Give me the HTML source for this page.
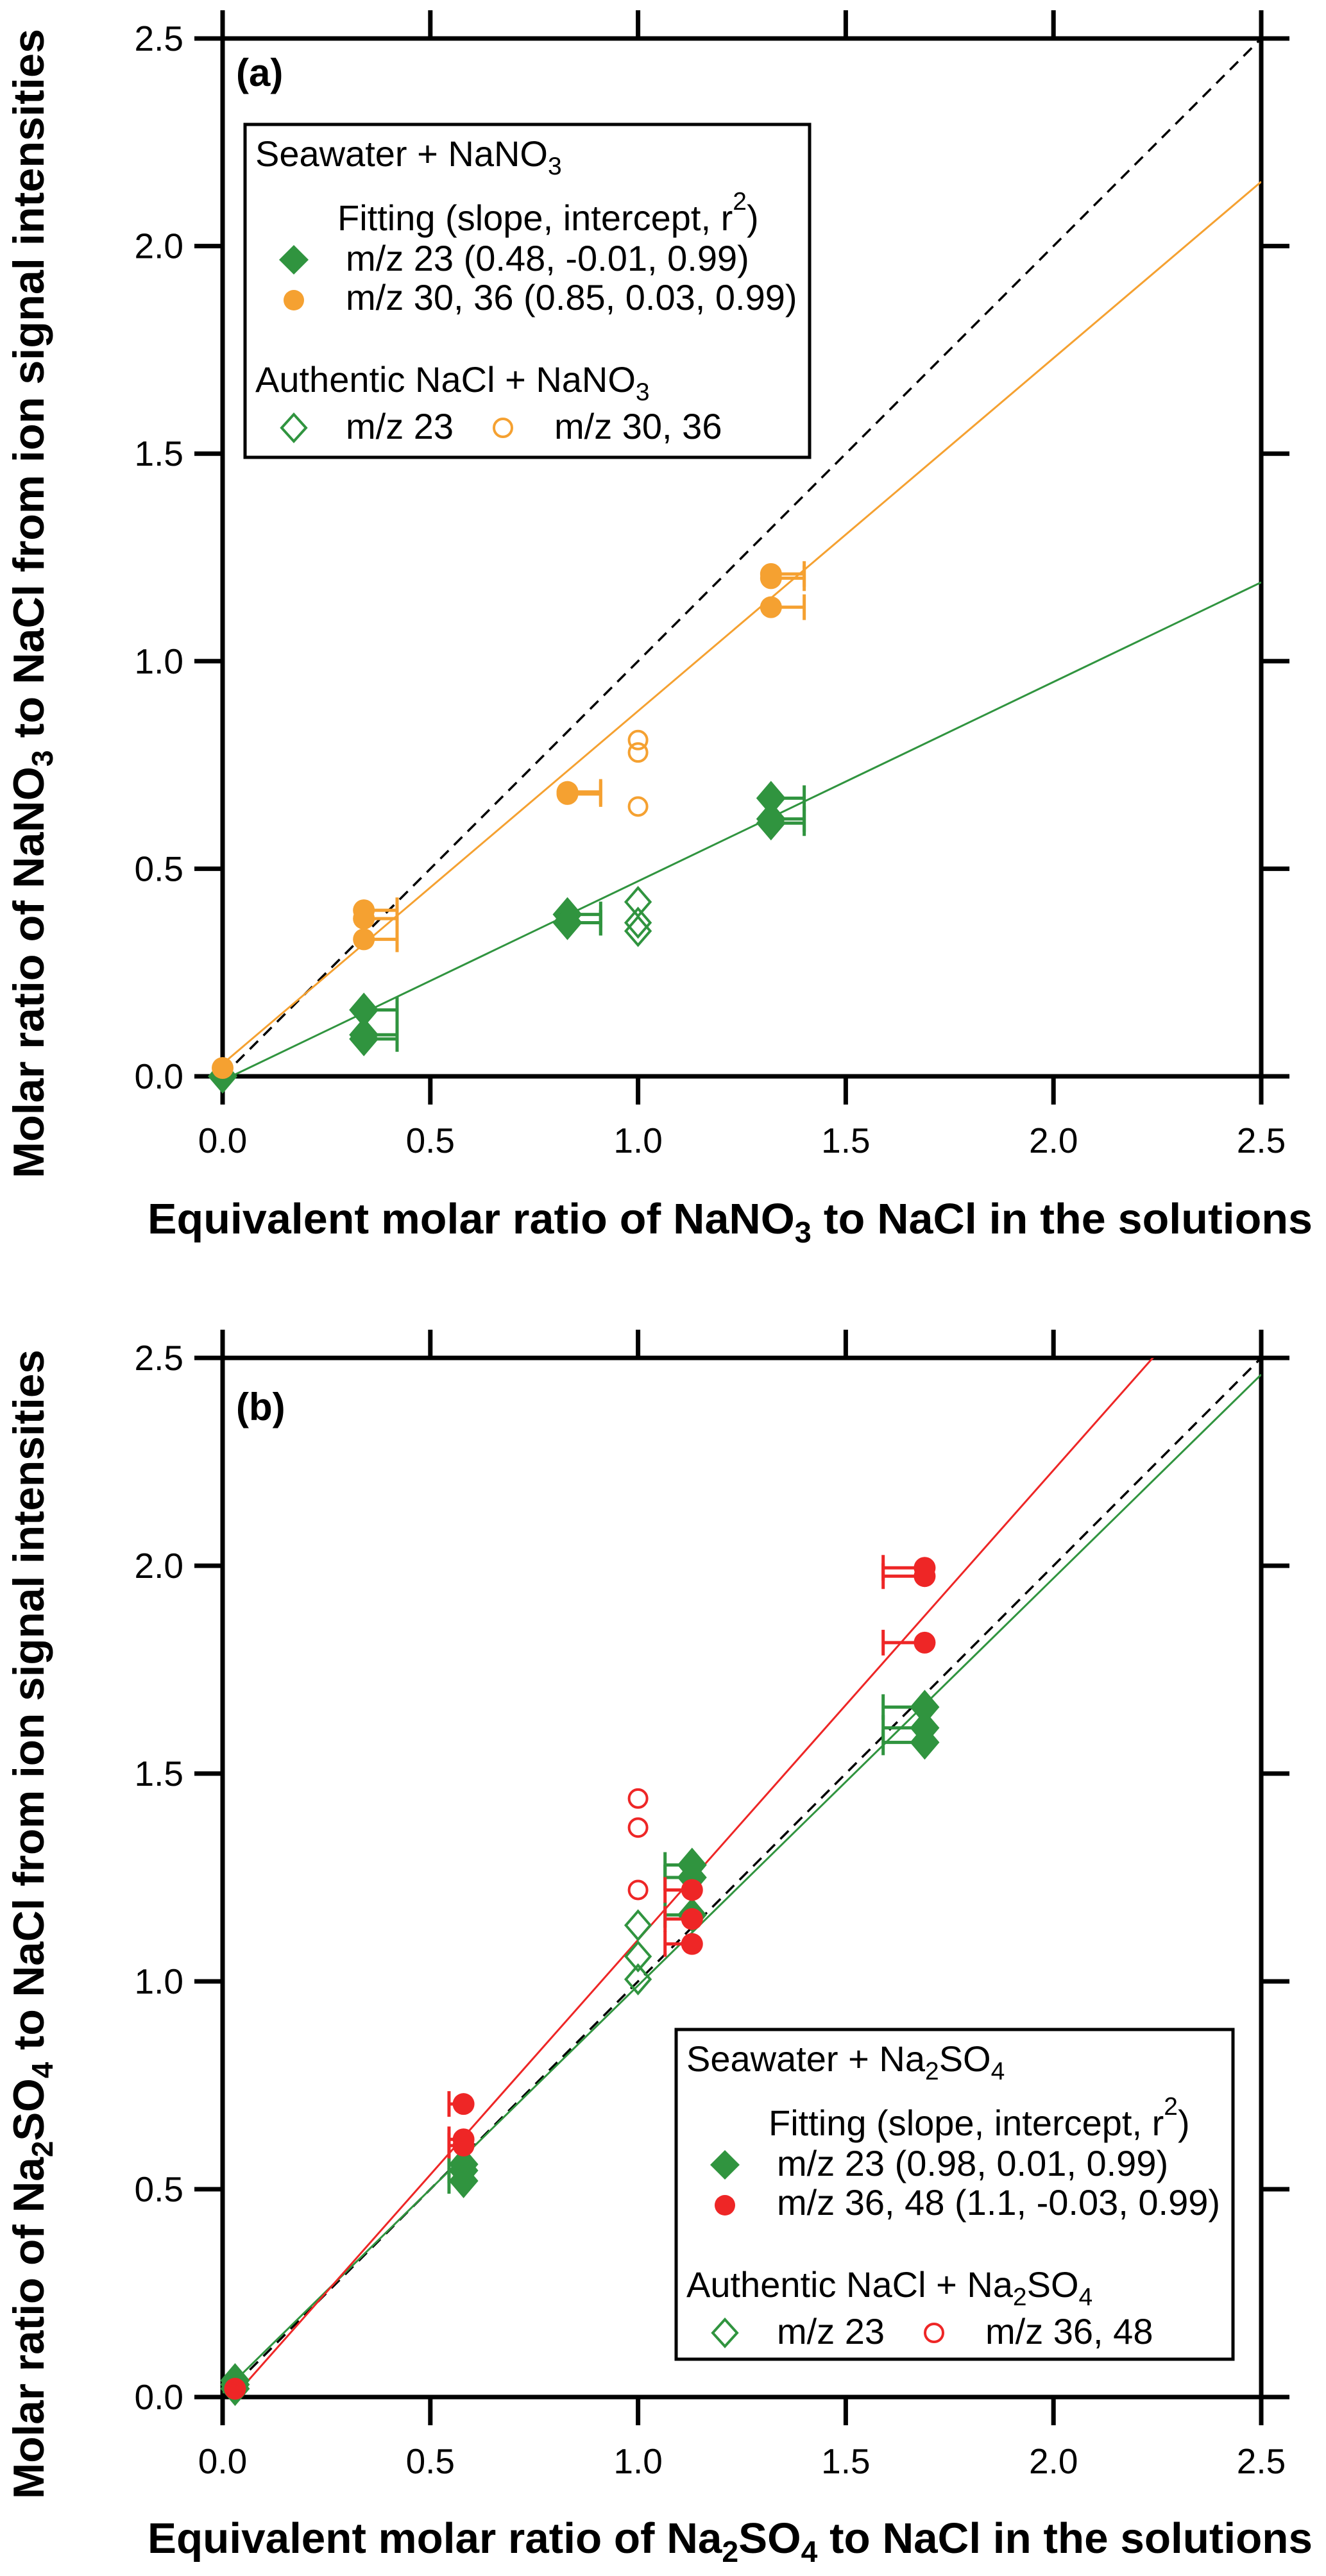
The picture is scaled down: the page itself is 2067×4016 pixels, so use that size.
<!DOCTYPE html>
<html><head><meta charset="utf-8"><style>
html,body{margin:0;padding:0;background:#fff;}
svg{display:block;font-family:"Liberation Sans",Arial,sans-serif;}
</style></head><body>
<svg id="fig" width="2067" height="4016" viewBox="0 0 2067 4016" xmlns="http://www.w3.org/2000/svg"></svg>
<script>
// ---------- Data: panel (a) ----------
const aGreenX = [0, 0.34, 0.34, 0.34, 0.83, 0.83, 0.83, 1.32, 1.32, 1.32];
const aGreenY = [0.0, 0.16, 0.10, 0.09, 0.39, 0.37, 0.37, 0.67, 0.62, 0.61];
const aGreenErr = [0, 0.08, 0.08, 0.08, 0.08, 0.08, 0.08, 0.08, 0.08, 0.08];
const aOrangeX = [0, 0.34, 0.34, 0.34, 0.83, 0.83, 1.32, 1.32, 1.32];
const aOrangeY = [0.02, 0.40, 0.38, 0.33, 0.685, 0.68, 1.21, 1.20, 1.13];
const aOrangeErr = [0, 0.08, 0.08, 0.08, 0.08, 0.08, 0.08, 0.08, 0.08];
const aOpenOrangeX = [1.0, 1.0, 1.0];
const aOpenOrangeY = [0.81, 0.78, 0.65];
const aOpenGreenX = [1.0, 1.0, 1.0];
const aOpenGreenY = [0.42, 0.37, 0.35];
const aGreenFit = [0.48, -0.01];
const aOrangeFit = [0.85, 0.03];
// ---------- Data: panel (b) ----------
const bGreenX = [0.03, 0.03, 0.03, 0.58, 0.58, 0.58, 1.13, 1.13, 1.13, 1.69, 1.69, 1.69];
const bGreenY = [0.02, 0.03, 0.04, 0.56, 0.545, 0.52, 1.28, 1.25, 1.16, 1.66, 1.61, 1.575];
const bGreenErr = [0, 0, 0, 0.035, 0.035, 0.035, 0.065, 0.065, 0.065, 0.10, 0.10, 0.10];
const bRedX = [0.03, 0.58, 0.58, 0.58, 1.13, 1.13, 1.13, 1.69, 1.69, 1.69];
const bRedY = [0.02, 0.705, 0.62, 0.605, 1.22, 1.15, 1.09, 1.995, 1.975, 1.815];
const bRedErr = [0, 0.035, 0.035, 0.035, 0.065, 0.065, 0.065, 0.10, 0.10, 0.10];
const bOpenRedX = [1.0, 1.0, 1.0];
const bOpenRedY = [1.44, 1.37, 1.22];
const bOpenGreenX = [1.0, 1.0, 1.0];
const bOpenGreenY = [1.135, 1.06, 1.005];
const bGreenFit = [0.98, 0.01];
const bRedFit = [1.13, -0.03];
// ---------- Axis ticks ----------
const tickVals = [0, 0.5, 1.0, 1.5, 2.0, 2.5];
const tickLabels = ["0.0", "0.5", "1.0", "1.5", "2.0", "2.5"];

const GREEN = "#30943f", ORANGE = "#f5a131", RED = "#ee2626";
const NS = "http://www.w3.org/2000/svg";
const svg = document.getElementById('fig');
function mk(tag, attrs, parent) {
  const e = document.createElementNS(NS, tag);
  for (const k in attrs) e.setAttribute(k, attrs[k]);
  (parent || svg).appendChild(e);
  return e;
}
function mkText(parent, x, y, parts, size, weight, anchor, extra) {
  const t = mk('text', Object.assign({x: x, y: y, 'font-size': size, 'font-weight': weight || 'normal', 'text-anchor': anchor || 'start', fill: '#000'}, extra || {}), parent);
  parts.forEach(p => {
    const s = document.createElementNS(NS, 'tspan');
    if (typeof p === 'string') { s.textContent = p; }
    else {
      s.textContent = p.t;
      if (p.sub) { s.setAttribute('dy', p.sub); s.setAttribute('font-size', p.fs); }
    }
    t.appendChild(s);
  });
  return t;
}

function panel(cfg) {
  const g = mk('g', {});
  
  
  const X0 = 347, X1 = 1966, Y0 = cfg.y0, Y1 = cfg.y25;
  const X = v => X0 + (X1 - X0) * v / 2.5;
  const Y = v => Y0 - (Y0 - Y1) * v / 2.5;
  const cid = 'clip' + cfg.name;
  const cp = mk('clipPath', {id: cid}, g);
  mk('rect', {x: X0, y: Y1, width: X1 - X0, height: Y0 - Y1}, cp);
  const frame = mk('rect', {x: X0, y: Y1, width: X1 - X0, height: Y0 - Y1, fill: 'none', stroke: '#000', 'stroke-width': 7}, g);
  
  
  tickVals.forEach((v, i) => {
    const tx = mk('line', {x1: X(v), x2: X(v), y1: Y0, y2: Y0 + 44, stroke: '#000', 'stroke-width': 7}, g);
    
    
    mk('line', {x1: X(v), x2: X(v), y1: Y1, y2: Y1 - 44, stroke: '#000', 'stroke-width': 7}, g);
    const ty = mk('line', {x1: X0, x2: X0 - 44, y1: Y(v), y2: Y(v), stroke: '#000', 'stroke-width': 7}, g);
    
    
    mk('line', {x1: X1, x2: X1 + 44, y1: Y(v), y2: Y(v), stroke: '#000', 'stroke-width': 7}, g);
    const xl = mkText(g, X(v), Y0 + 119, [tickLabels[i]], 55, 'normal', 'middle');
    
    
    const yl = mkText(g, 286, Y(v) + 19, [tickLabels[i]], 55, 'normal', 'end');
    
    
  });
  const pg = mk('g', {'clip-path': 'url(#' + cid + ')'}, g);
  const d = mk('line', {x1: X(0), y1: Y(0), x2: X(2.5), y2: Y(2.5), stroke: '#000', 'stroke-width': 3.5, 'stroke-dasharray': '18 12'}, pg);
  
  
  cfg.fits.forEach(f => {
    const l = mk('line', {x1: X(0), y1: Y(f.p[1]), x2: X(2.5), y2: Y(f.p[0] * 2.5 + f.p[1]), stroke: f.c, 'stroke-width': 3}, pg);
    
    
  });
  const mg = mk('g', {}, g);
  cfg.open.forEach(s => {
    s.x.forEach((xv, i) => {
      let m;
      if (s.shape === 'diamond') {
        const cx = X(xv), cy = Y(s.y[i]);
        m = mk('polygon', {points: `${cx},${cy-22} ${cx+19},${cy} ${cx},${cy+22} ${cx-19},${cy}`, fill: 'none', stroke: s.c, 'stroke-width': 4}, mg);
      } else {
        m = mk('circle', {cx: X(xv), cy: Y(s.y[i]), r: 14, fill: 'none', stroke: s.c, 'stroke-width': 4}, mg);
      }
      
      
    });
  });
  cfg.filled.forEach(s => {
    s.x.forEach((xv, i) => {
      const cx = X(xv), cy = Y(s.y[i]);
      if (s.err[i] > 0) {
        const ex = X(xv + s.dir * s.err[i]);
        const eb = mk('path', {d: `M${cx},${cy} L${ex},${cy} M${ex},${cy-20} L${ex},${cy+20}`, stroke: s.c, 'stroke-width': 5, fill: 'none'}, mg);
        
        
      }
    });
    s.x.forEach((xv, i) => {
      const cx = X(xv), cy = Y(s.y[i]);
      let m;
      if (s.shape === 'diamond') {
        m = mk('polygon', {points: `${cx},${cy-27} ${cx+23},${cy} ${cx},${cy+27} ${cx-23},${cy}`, fill: s.c}, mg);
      } else {
        m = mk('circle', {cx: cx, cy: cy, r: 17, fill: s.c}, mg);
      }
      
      
    });
  });
  const pl = mkText(g, 368, cfg.labelY, [cfg.label], 60, 'bold');
  
  
  const L = cfg.leg;
  const lg = mk('g', {}, g);
  
  
  mk('rect', {x: L.x, y: L.y, width: L.w, height: L.h, fill: '#fff', stroke: '#000', 'stroke-width': 5}, lg);
  const FS = 56;
  mkText(lg, L.x + 16, L.y + 65, L.title1, FS);
  mkText(lg, L.x + 144, L.y + 165, ["Fitting (slope, intercept, r", {t: "2", sub: -32, fs: 39}, {t: ")", sub: 32, fs: FS}], FS);
  mkText(lg, L.x + 157, L.y + 228, [L.row1], FS);
  mkText(lg, L.x + 157, L.y + 289, [L.row2], FS);
  mkText(lg, L.x + 16, L.y + 417, L.title2, FS);
  mkText(lg, L.x + 157, L.y + 490, ["m/z 23"], FS);
  mkText(lg, L.x + 482, L.y + 490, [L.row4], FS);
  let cx = L.x + 76, cy = L.y + 211;
  mk('polygon', {points: `${cx},${cy-23} ${cx+23},${cy} ${cx},${cy+23} ${cx-23},${cy}`, fill: GREEN}, lg);
  mk('circle', {cx: cx, cy: L.y + 274, r: 16, fill: L.c2}, lg);
  cy = L.y + 473;
  mk('polygon', {points: `${cx},${cy-21} ${cx+19},${cy} ${cx},${cy+21} ${cx-19},${cy}`, fill: 'none', stroke: GREEN, 'stroke-width': 4}, lg);
  mk('circle', {cx: L.x + 402, cy: cy, r: 14, fill: 'none', stroke: L.c2, 'stroke-width': 4}, lg);
  const xt = mkText(g, 230, cfg.xTitleY, cfg.xTitle, 67, 'bold', 'start', {textLength: 1816, lengthAdjust: 'spacingAndGlyphs'});
  
  
  const yt = mkText(g, 0, 0, cfg.yTitle, 68, 'bold', 'middle', {transform: `translate(68,${cfg.yTitleC}) rotate(-90)`, textLength: 1792, lengthAdjust: 'spacingAndGlyphs'});
  
  
}

const s = (t) => ({t: t, sub: 14, fs: 46});
const r = (t) => ({t: t, sub: -14, fs: 67});
const sy = (t) => ({t: t, sub: 14, fs: 46});
const ry = (t) => ({t: t, sub: -14, fs: 68});
const ls = (t) => ({t: t, sub: 13, fs: 39});
const lr = (t) => ({t: t, sub: -13, fs: 56});

panel({
  name: 'panel-a', y0: 1678, y25: 60, label: '(a)', labelY: 134,
  fits: [{p: aGreenFit, c: GREEN, name: 'fit-line-mz23'}, {p: aOrangeFit, c: ORANGE, name: 'fit-line-mz30-36'}],
  open: [{x: aOpenOrangeX, y: aOpenOrangeY, c: ORANGE, shape: 'circle', name: 'authentic-mz30-36-point'},
         {x: aOpenGreenX, y: aOpenGreenY, c: GREEN, shape: 'diamond', name: 'authentic-mz23-point'}],
  filled: [{x: aGreenX, y: aGreenY, err: aGreenErr, dir: 1, c: GREEN, shape: 'diamond', name: 'seawater-mz23-point'},
           {x: aOrangeX, y: aOrangeY, err: aOrangeErr, dir: 1, c: ORANGE, shape: 'circle', name: 'seawater-mz30-36-point'}],
  leg: {x: 382, y: 194, w: 880, h: 519, c2: ORANGE,
        title1: ["Seawater + NaNO", ls("3")],
        row1: "m/z 23 (0.48, -0.01, 0.99)", row2: "m/z 30, 36 (0.85, 0.03, 0.99)",
        title2: ["Authentic NaCl + NaNO", ls("3")], row4: "m/z 30, 36"},
  xTitleY: 1923, xTitle: ["Equivalent molar ratio of NaNO", s("3"), r(" to NaCl in the solutions")],
  yTitleC: 941, yTitle: ["Molar ratio of NaNO", sy("3"), ry(" to NaCl from ion signal intensities")]
});
panel({
  name: 'panel-b', y0: 3737, y25: 2117, label: '(b)', labelY: 2214,
  fits: [{p: bGreenFit, c: GREEN, name: 'fit-line-mz23'}, {p: bRedFit, c: RED, name: 'fit-line-mz36-48'}],
  open: [{x: bOpenRedX, y: bOpenRedY, c: RED, shape: 'circle', name: 'authentic-mz36-48-point'},
         {x: bOpenGreenX, y: bOpenGreenY, c: GREEN, shape: 'diamond', name: 'authentic-mz23-point'}],
  filled: [{x: bGreenX, y: bGreenY, err: bGreenErr, dir: -1, c: GREEN, shape: 'diamond', name: 'seawater-mz23-point'},
           {x: bRedX, y: bRedY, err: bRedErr, dir: -1, c: RED, shape: 'circle', name: 'seawater-mz36-48-point'}],
  leg: {x: 1054, y: 3164, w: 868, h: 514, c2: RED,
        title1: ["Seawater + Na", ls("2"), lr("SO"), ls("4")],
        row1: "m/z 23 (0.98, 0.01, 0.99)", row2: "m/z 36, 48 (1.1, -0.03, 0.99)",
        title2: ["Authentic NaCl + Na", ls("2"), lr("SO"), ls("4")], row4: "m/z 36, 48"},
  xTitleY: 3980, xTitle: ["Equivalent molar ratio of Na", s("2"), r("SO"), s("4"), r(" to NaCl in the solutions")],
  yTitleC: 3000, yTitle: ["Molar ratio of Na", sy("2"), ry("SO"), sy("4"), ry(" to NaCl from ion signal intensities")]
});
</script>
</body></html>
